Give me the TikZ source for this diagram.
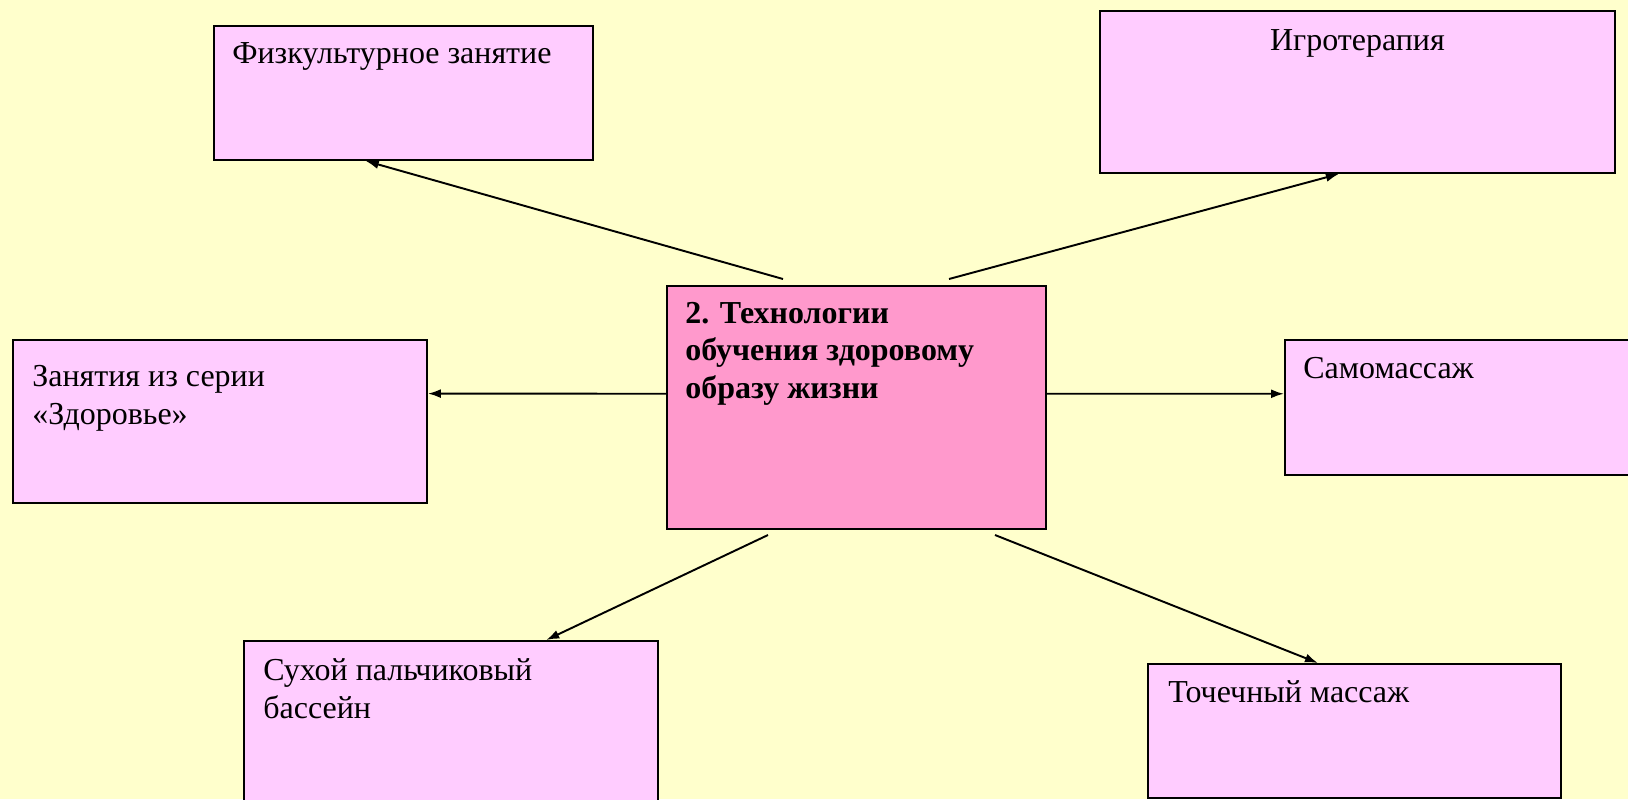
\documentclass[tikz,border=0pt]{standalone}
\usepackage{fontspec}
\setmainfont{Liberation Serif}
\usetikzlibrary{arrows.meta,calc}

\definecolor{bgyellow}{HTML}{FFFFCC}
\definecolor{boxpink}{HTML}{FFCCFF}
\definecolor{mainpink}{HTML}{FF99CC}

\tikzset{
  box/.style={draw=black, line width=1.1pt, fill=boxpink, anchor=north west, inner sep=0pt},
  txt/.style={anchor=base west, align=left, inner sep=0pt, font=\fontsize{18.2}{21.3}\selectfont},
  link/.style={line width=1.1pt, -{Latex[length=0.26cm,width=0.18cm]}}
}

\begin{document}
\begin{tikzpicture}

        % Background and page size
        \useasboundingbox (0,0) rectangle (32.56,-15.98);
        \clip (0,0) rectangle (32.56,-15.98);
        \fill[bgyellow] (0,0) rectangle (32.56,-15.98);

        % Boxes around the centre (multi-line texts sit on their last baseline)
        \node (fiz) [box, minimum width=7.58cm, minimum height=2.68cm] at (4.26,-0.5) {};
        \node (fiz-t) [txt] at ([shift={(0.38,-0.76)}]fiz.north west) {Физкультурное занятие};

        \node (igro) [box, minimum width=10.3cm, minimum height=3.24cm] at (21.98,-0.2) {};
        \node (igro-t) [txt, anchor=base] at ([yshift=-0.8cm]igro.north) {Игротерапия};

        \node (tech) [box, fill=mainpink, minimum width=7.58cm, minimum height=4.86cm] at (13.32,-5.7) {};
        \node (tech-t) [txt, font=\fontsize{18.2}{21.3}\selectfont\bfseries] at ([shift={(0.38,-2.26)}]tech.north west) {2. Технологии\\обучения здоровому\\образу жизни};

        \node (zan) [box, minimum width=8.28cm, minimum height=3.26cm] at (0.24,-6.78) {};
        \node (zan-t) [txt] at ([shift={(0.4,-1.7)}]zan.north west) {Занятия из серии\\«Здоровье»};

        \node (samo) [box, minimum width=7.5cm, minimum height=2.7cm] at (25.68,-6.78) {};
        \node (samo-t) [txt] at ([shift={(0.38,-0.78)}]samo.north west) {Самомассаж};

        \node (such) [box, minimum width=8.28cm, minimum height=3.6cm] at (4.86,-12.8) {};
        \node (such-t) [txt] at ([shift={(0.4,-1.56)}]such.north west) {Сухой пальчиковый\\бассейн};

        \node (toch) [box, minimum width=8.26cm, minimum height=2.68cm] at (22.94,-13.26) {};
        \node (toch-t) [txt] at ([shift={(0.42,-0.78)}]toch.north west) {Точечный массаж};

        % Free ends of the arrows near the centre box
        \coordinate (s1) at (15.66,-5.58);
        \coordinate (s2) at (18.98,-5.58);
        \coordinate (s5) at (15.36,-10.7);
        \coordinate (s6) at (19.9,-10.7);

        % Arrows
        \draw[link] (s1) -- ($(fiz.south west)!0.401!(fiz.south east)$);
        \draw[link] (s2) -- ($(igro.south west)!0.464!(igro.south east)$);
        \draw[link] ($(tech.north west)!0.444!(tech.south west)$) -- ($(zan.north east)!0.331!(zan.south east)$);
        \draw[link] ($(tech.north east)!0.444!(tech.south east)$) -- ($(samo.north west)!0.4!(samo.south west)$);
        \draw[link] (s5) -- ($(such.north west)!0.729!(such.north east)$);
        \draw[link] (s6) -- ($(toch.north west)!0.412!(toch.north east)$);

    \end{tikzpicture}
\end{document}
